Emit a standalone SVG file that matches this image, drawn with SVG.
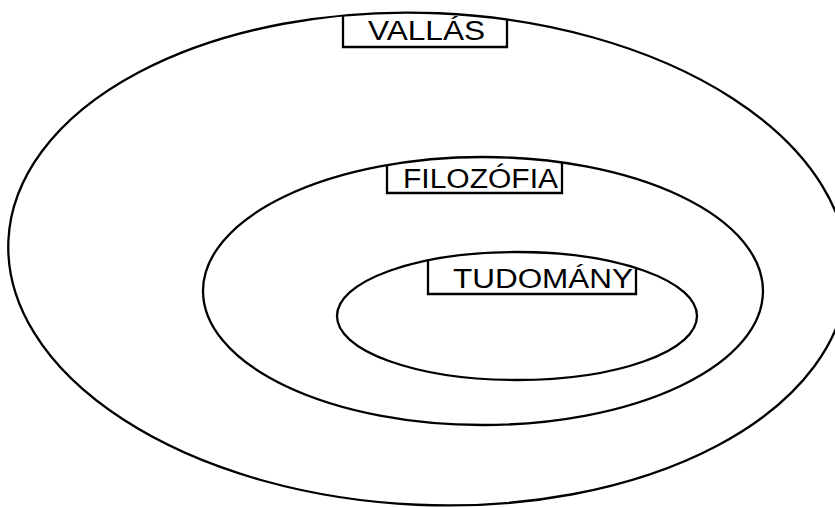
<svg xmlns="http://www.w3.org/2000/svg" width="835" height="507" viewBox="0 0 835 507">
  <style>
    .ring { fill: none; stroke: #000; stroke-width: 2.3; }
    .box { fill: none; stroke: #000; stroke-width: 2.3; stroke-linejoin: miter; }
    .lbl { font-family: "Liberation Sans", Arial, sans-serif; font-size: 27px; fill: #000; }
  </style>
  <rect width="835" height="507" fill="#fff"/>
  <g id="vallas">
    <ellipse class="ring" cx="428" cy="259" rx="420" ry="246" transform="rotate(2.5 428 259)"/>
    <path class="box" d="M343,15.4 V47 H507 V19.5"/>
    <text class="lbl" x="368" y="40" textLength="117" lengthAdjust="spacingAndGlyphs">VALLÁS</text>
  </g>
  <g id="filozofia">
    <ellipse class="ring" cx="483" cy="291" rx="280" ry="134"/>
    <path class="box" d="M387,165 V193 H562 V162.4"/>
    <text class="lbl" x="403" y="188" textLength="155" lengthAdjust="spacingAndGlyphs">FILOZÓFIA</text>
  </g>
  <g id="tudomany">
    <ellipse class="ring" cx="517" cy="316" rx="180" ry="64"/>
    <path class="box" d="M428,260.4 V294 H636 V268"/>
    <text class="lbl" x="453" y="288" textLength="180" lengthAdjust="spacingAndGlyphs">TUDOMÁNY</text>
  </g>
  <g id="connectors"/>
</svg>
